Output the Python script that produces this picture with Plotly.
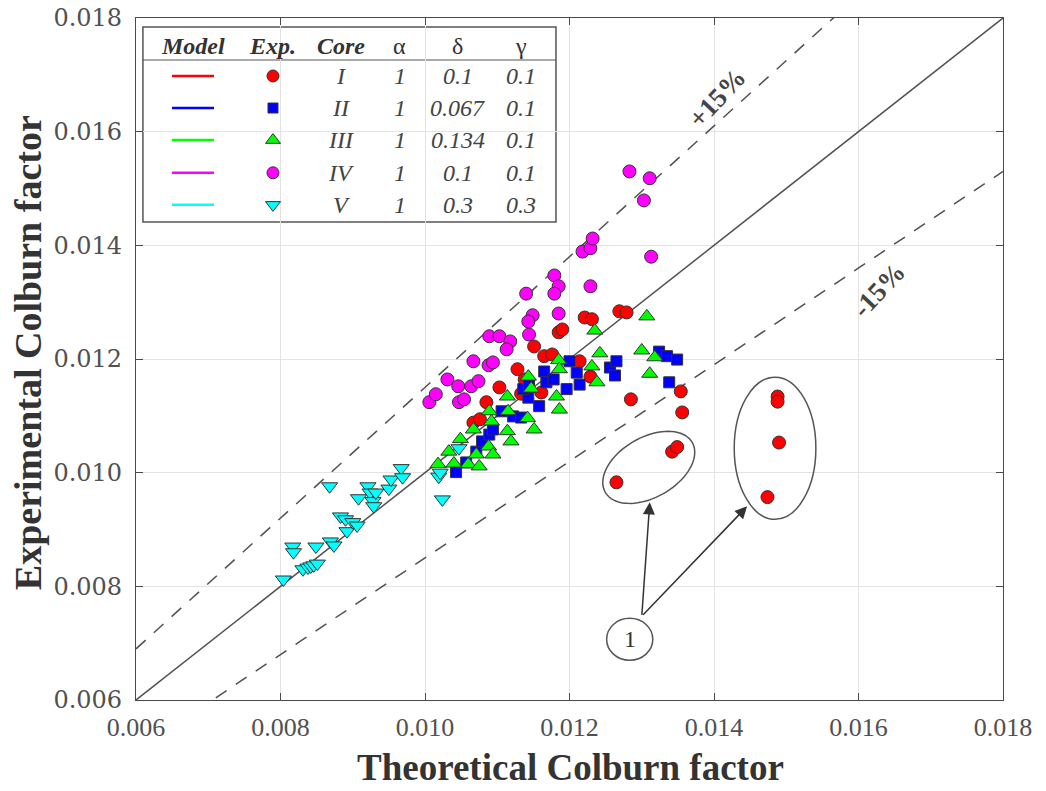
import numpy as np
import plotly.graph_objects as go

# ---------------- data ----------------
core_I_x = [0.01067, 0.01076, 0.01085, 0.01103, 0.01128, 0.01138, 0.01133, 0.01161, 0.01151, 0.01165,
            0.01176, 0.01185, 0.01190, 0.01221, 0.01231, 0.01269, 0.01279, 0.01214, 0.01229, 0.01285,
            0.01354, 0.01356, 0.01265, 0.01342, 0.01349, 0.01488, 0.01488, 0.01490, 0.01474]
core_I_y = [0.01088, 0.01094, 0.01124, 0.01150, 0.01182, 0.01164, 0.01139, 0.01141, 0.01222, 0.01205,
            0.01208, 0.01247, 0.01252, 0.01273, 0.01270, 0.01284, 0.01282, 0.01196, 0.01169, 0.01129,
            0.01143, 0.01106, 0.00983, 0.01037, 0.01045, 0.01134, 0.01125, 0.01053, 0.00957]

core_II_x = [0.01043, 0.01057, 0.01071, 0.01079, 0.01089, 0.01094, 0.01106, 0.01122, 0.01133, 0.01143,
             0.01136, 0.01144, 0.01158, 0.01165, 0.01168, 0.01178, 0.01200, 0.01196, 0.01210, 0.01214,
             0.01256, 0.01265, 0.01263, 0.01324, 0.01335, 0.01349, 0.01338]
core_II_y = [0.01001, 0.01018, 0.01037, 0.01055, 0.01067, 0.01076, 0.01108, 0.01099, 0.01097, 0.01132,
             0.01147, 0.01155, 0.01117, 0.01178, 0.01159, 0.01164, 0.01196, 0.01147, 0.01176, 0.01155,
             0.01185, 0.01196, 0.01171, 0.01213, 0.01205, 0.01199, 0.01159]

core_III_x = [0.01018, 0.01033, 0.01049, 0.01040, 0.01060, 0.01075, 0.01071, 0.01088, 0.01094, 0.01067,
              0.01089, 0.01092, 0.01114, 0.01115, 0.01114, 0.01119, 0.01142, 0.01151, 0.01143, 0.01147,
              0.01185, 0.01186, 0.01182, 0.01186, 0.01235, 0.01242, 0.01231, 0.01238, 0.01307, 0.01300,
              0.01318, 0.01311]
core_III_y = [0.01015, 0.01037, 0.01059, 0.01016, 0.01015, 0.01011, 0.01032, 0.01046, 0.01032, 0.01076,
              0.01108, 0.01090, 0.01134, 0.01108, 0.01073, 0.01055, 0.01096, 0.01076, 0.01169, 0.01148,
              0.01198, 0.01182, 0.01134, 0.01111, 0.01250, 0.01210, 0.01187, 0.01159, 0.01275, 0.01215,
              0.01203, 0.01174]

core_IV_x = [0.01006, 0.01015, 0.01031, 0.01046, 0.01047, 0.01054, 0.01064, 0.01074, 0.01067, 0.01088,
             0.01094, 0.01089, 0.01103, 0.01118, 0.01113, 0.01140, 0.01149, 0.01143, 0.01144, 0.01179,
             0.01185, 0.01179, 0.01185, 0.01218, 0.01229, 0.01232, 0.01229, 0.01313, 0.01283, 0.01311,
             0.01303]
core_IV_y = [0.01124, 0.01138, 0.01164, 0.01152, 0.01124, 0.01129, 0.01152, 0.01161, 0.01196, 0.01189,
             0.01194, 0.01240, 0.01240, 0.01231, 0.01217, 0.01315, 0.01277, 0.01266, 0.01243, 0.01347,
             0.01328, 0.01315, 0.01280, 0.01389, 0.01395, 0.01412, 0.01328, 0.01380, 0.01530, 0.01518,
             0.01479]

core_V_x = [0.00804, 0.00817, 0.00818, 0.00831, 0.00838, 0.00842, 0.00846, 0.00851, 0.00849, 0.00869,
            0.00874, 0.00868, 0.00883, 0.00890, 0.00892, 0.00900, 0.00906, 0.00908, 0.00921, 0.00924,
            0.00928, 0.00929, 0.00932, 0.00950, 0.00953, 0.00967, 0.00969, 0.01019, 0.01021, 0.01024,
            0.01047]
core_V_y = [0.00812, 0.00870, 0.00860, 0.00830, 0.00833, 0.00835, 0.00837, 0.00840, 0.00870, 0.00879,
            0.00872, 0.00976, 0.00923, 0.00918, 0.00897, 0.00913, 0.00907, 0.00955, 0.00976, 0.00965,
            0.00950, 0.00941, 0.00965, 0.00972, 0.00988, 0.01008, 0.00992, 0.00993, 0.01000, 0.00953,
            0.01043]

axis_range = [0.006, 0.018]
tick_vals = [0.006, 0.008, 0.010, 0.012, 0.014, 0.016, 0.018]
tick_text = ["0.006", "0.008", "0.010", "0.012", "0.014", "0.016", "0.018"]
band = 0.15

cores = ["I", "II", "III", "IV", "V"]
alphas = ["1", "1", "1", "1", "1"]
deltas = ["0.1", "0.067", "0.134", "0.1", "0.3"]
gammas = ["0.1", "0.1", "0.1", "0.1", "0.3"]
colors = ["#ff0000", "#0000ff", "#00ff00", "#ff00ff", "#00ffff"]
symbols = ["circle", "square", "triangle-up", "circle", "triangle-down"]
sizes = [13, 11, 14, 13, 14]

series = {
    "I": (core_I_x, core_I_y),
    "II": (core_II_x, core_II_y),
    "III": (core_III_x, core_III_y),
    "IV": (core_IV_x, core_IV_y),
    "V": (core_V_x, core_V_y),
}

SERIF = "Liberation Serif"
AX = "#4a4a4a"

fig = go.Figure()

# reference lines
lx = np.array(axis_range)
fig.add_trace(go.Scatter(x=lx, y=lx, mode="lines", line=dict(color="#505050", width=1.5),
                         showlegend=False, hoverinfo="skip"))
fig.add_trace(go.Scatter(x=lx, y=lx * (1 + band), mode="lines",
                         line=dict(color="#505050", width=1.5, dash="13px,11px"),
                         showlegend=False, hoverinfo="skip"))
fig.add_trace(go.Scatter(x=lx, y=lx * (1 - band), mode="lines",
                         line=dict(color="#505050", width=1.5, dash="13px,11px"),
                         showlegend=False, hoverinfo="skip"))

# data points
for k in [3, 0, 1, 2, 4]:
    c = cores[k]
    xs, ys = series[c]
    fig.add_trace(go.Scatter(x=xs, y=ys, mode="markers", name="Core " + c,
                             marker=dict(symbol=symbols[k], color=colors[k], size=sizes[k],
                                         line=dict(color="#333333", width=1)),
                             showlegend=False))

# ---------------- legend table (on overlay axes 0..1) ----------------
box_x0, box_x1, box_y0, box_y1 = 0.008, 0.4844, 0.7009, 0.9868
head_y = 0.9584
sep_y = 0.9384
row_y = [0.915, 0.868, 0.821, 0.773, 0.726]
col_line = (0.0415, 0.090)
col_model = 0.0655
col_exp = 0.158
col_core = 0.237
col_a = 0.304
col_d = 0.371
col_g = 0.444

fig.add_shape(type="rect", xref="paper", yref="paper", x0=box_x0, x1=box_x1, y0=box_y0, y1=box_y1,
              line=dict(color="#555555", width=1.5), fillcolor="white", layer="between")
fig.add_shape(type="line", xref="paper", yref="paper", x0=box_x0, x1=box_x1, y0=sep_y, y1=sep_y,
              line=dict(color="#555555", width=1.2), layer="between")

for k in range(5):
    fig.add_trace(go.Scatter(x=list(col_line), y=[row_y[k], row_y[k]], xaxis="x2", yaxis="y2",
                             mode="lines", line=dict(color=colors[k], width=2.5),
                             showlegend=False, hoverinfo="skip"))
    fig.add_trace(go.Scatter(x=[col_exp], y=[row_y[k]], xaxis="x2", yaxis="y2", mode="markers",
                             marker=dict(symbol=symbols[k], color=colors[k], size=sizes[k] - 1,
                                         line=dict(color="#333333", width=1)),
                             showlegend=False, hoverinfo="skip"))

def label(x, y, text, size, color="#333333", angle=0, xref="paper", yref="paper", family=SERIF):
    fig.add_annotation(x=x, y=y, xref=xref, yref=yref, text=text, showarrow=False,
                       xanchor="center", yanchor="middle", textangle=angle,
                       font=dict(family=family, size=size, color=color))

headers = [("<b><i>Model</i></b>", col_model), ("<b><i>Exp.</i></b>", col_exp),
           ("<b><i>Core</i></b>", col_core), ("α", col_a), ("δ", col_d), ("γ", col_g)]
for txt, xx in headers:
    label(xx, head_y, txt, 24)

for k in range(5):
    for txt, xx in [(cores[k], col_core), (alphas[k], col_a), (deltas[k], col_d), (gammas[k], col_g)]:
        label(xx, row_y[k], "<i>" + txt + "</i>", 24, color="#444444")

# ---------------- band labels ----------------
label(0.01404, 0.01660, "<b>+15%</b>", 27, color="#444444", angle=-47, xref="x", yref="y")
label(0.01628, 0.01322, "<b>-15%</b>", 27, color="#444444", angle=-47, xref="x", yref="y")

# ---------------- ellipses, label "1" and arrows ----------------
t = np.linspace(0, 2 * np.pi, 80)
cx, cy = 0.013097, 0.010093
a_px, b_px, th = 50.0, 30.0, np.deg2rad(30)
sx, sy = 72000.0, 56850.0
ex = cx + (a_px * np.cos(t) * np.cos(th) - b_px * np.sin(t) * np.sin(th)) / sx
ey = cy + (a_px * np.cos(t) * np.sin(th) + b_px * np.sin(t) * np.cos(th)) / sy
path = "M " + " L ".join(f"{u:.6f},{v:.6f}" for u, v in zip(ex, ey)) + " Z"
fig.add_shape(type="path", path=path, xref="x", yref="y", line=dict(color="#555555", width=1.5))

fig.add_shape(type="circle", xref="x", yref="y", x0=0.01428, x1=0.01541, y0=0.00918, y1=0.01168,
              line=dict(color="#555555", width=1.5))
fig.add_shape(type="circle", xref="x", yref="y", x0=0.012514, x1=0.013153, y0=0.006698, y1=0.007437,
              line=dict(color="#555555", width=1.5), fillcolor="white")
label(0.012833, 0.007068, "1", 24, xref="x", yref="y")

for hx, hy in [(0.013111, 0.009478), (0.014458, 0.009407)]:
    fig.add_annotation(x=hx, y=hy, ax=0.01300, ay=0.007472, axref="x", ayref="y", xref="x", yref="y",
                       text="", showarrow=True, arrowhead=2, arrowsize=1.6, arrowwidth=1.5,
                       arrowcolor="#333333")

# ---------------- axis titles ----------------
label(0.5006, -0.0985, "<b>Theoretical Colburn factor</b>", 37)
label(-0.1246, 0.510, "<b>Experimental Colburn factor</b>", 38, angle=-90)

axis_common = dict(range=axis_range, tickvals=tick_vals, ticktext=tick_text, showgrid=True,
                   gridcolor="#e3e3e3", gridwidth=1, zeroline=False, showline=True, linecolor=AX,
                   linewidth=1.2, mirror="ticks", ticks="inside", ticklen=7, tickcolor=AX,
                   automargin=False)

fig.update_layout(
    width=1046, height=791,
    margin=dict(l=136, r=43, t=18, b=91, autoexpand=False),
    paper_bgcolor="white", plot_bgcolor="white",
    xaxis=dict(**axis_common, tickfont=dict(family=SERIF, size=26, color="#505050"),
               ticklabelstandoff=4),
    yaxis=dict(**axis_common, tickfont=dict(family="DejaVu Serif", size=24, color="#505050"),
               ticklabelstandoff=8),
    xaxis2=dict(range=[0, 1], overlaying="x", visible=False, fixedrange=True),
    yaxis2=dict(range=[0, 1], overlaying="y", visible=False, fixedrange=True),
    showlegend=False,
)

fig.write_html("out.html")
